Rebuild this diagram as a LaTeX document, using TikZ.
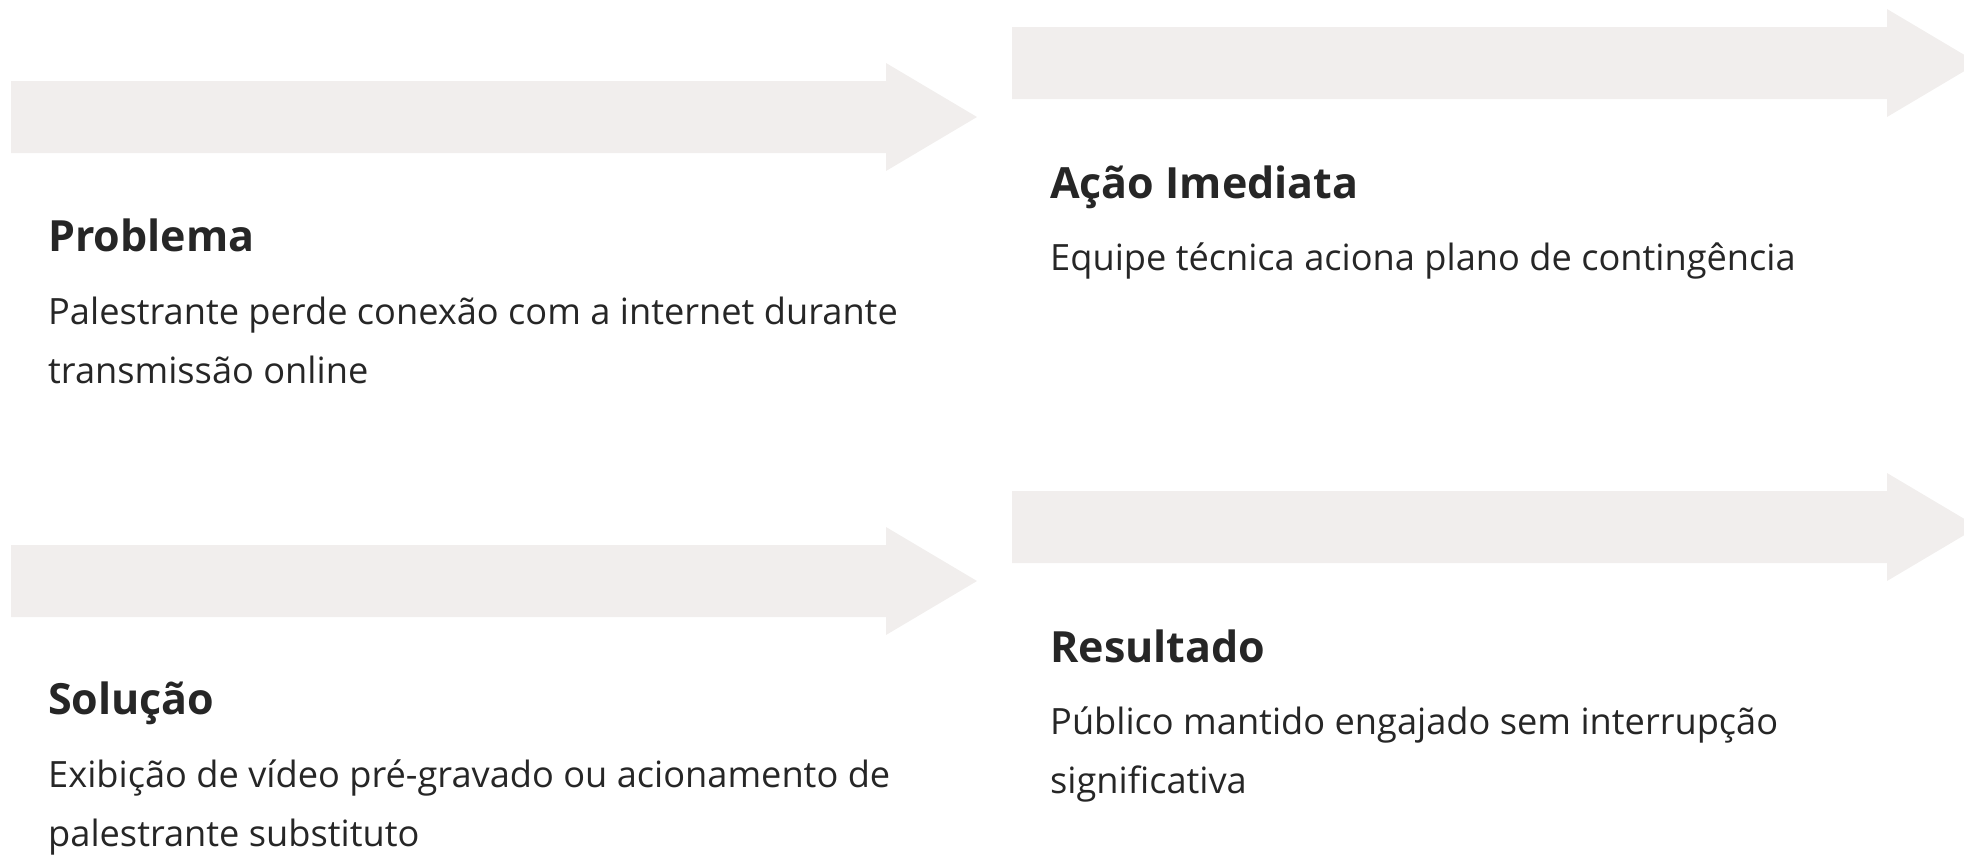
\documentclass[tikz,border=0pt]{standalone}
\usepackage{fontspec}
\setmainfont{Open Sans}
\definecolor{arrowgray}{HTML}{F1EEED}
\definecolor{ink}{HTML}{262626}
\newcommand\flowarrow[2]{\fill[arrowfill] (#1,#2-36) -- (#1+875,#2-36) -- (#1+875,#2-54) -- (#1+966,#2) -- (#1+875,#2+54) -- (#1+875,#2+36) -- (#1,#2+36) -- cycle;}
\begin{document}
\begin{tikzpicture}[x=1pt,y=-1pt,
  arrowfill/.style={fill=arrowgray},
  title/.style={anchor=base west, inner sep=0pt, text=ink, font=\bfseries\fontsize{43}{50}\selectfont},
  body/.style={anchor=base west, inner sep=0pt, align=left, text=ink, font=\fontsize{36.2}{59}\selectfont}]
\useasboundingbox (0,0) rectangle (1964,855);
\clip (0,0) rectangle (1964,855);
\flowarrow{11}{117}
\flowarrow{1012}{63}
\flowarrow{11}{581}
\flowarrow{1012}{527}
\node[title] (t1) at (48,251) {Problema};
\node[body] (b1) at (48,383) {Palestrante perde conexão com a internet durante\\transmissão online};
\node[title] (t2) at (1050,198) {Ação Imediata};
\node[body] (b2) at (1050,270) {Equipe técnica aciona plano de contingência};
\node[title] (t3) at (48,714) {Solução};
\node[body] (b3) at (48,846) {Exibição de vídeo pré-gravado ou acionamento de\\palestrante substituto};
\node[title] (t4) at (1050,662) {Resultado};
\node[body] (b4) at (1050,793) {Público mantido engajado sem interrupção\\significativa};
\end{tikzpicture}
\end{document}
